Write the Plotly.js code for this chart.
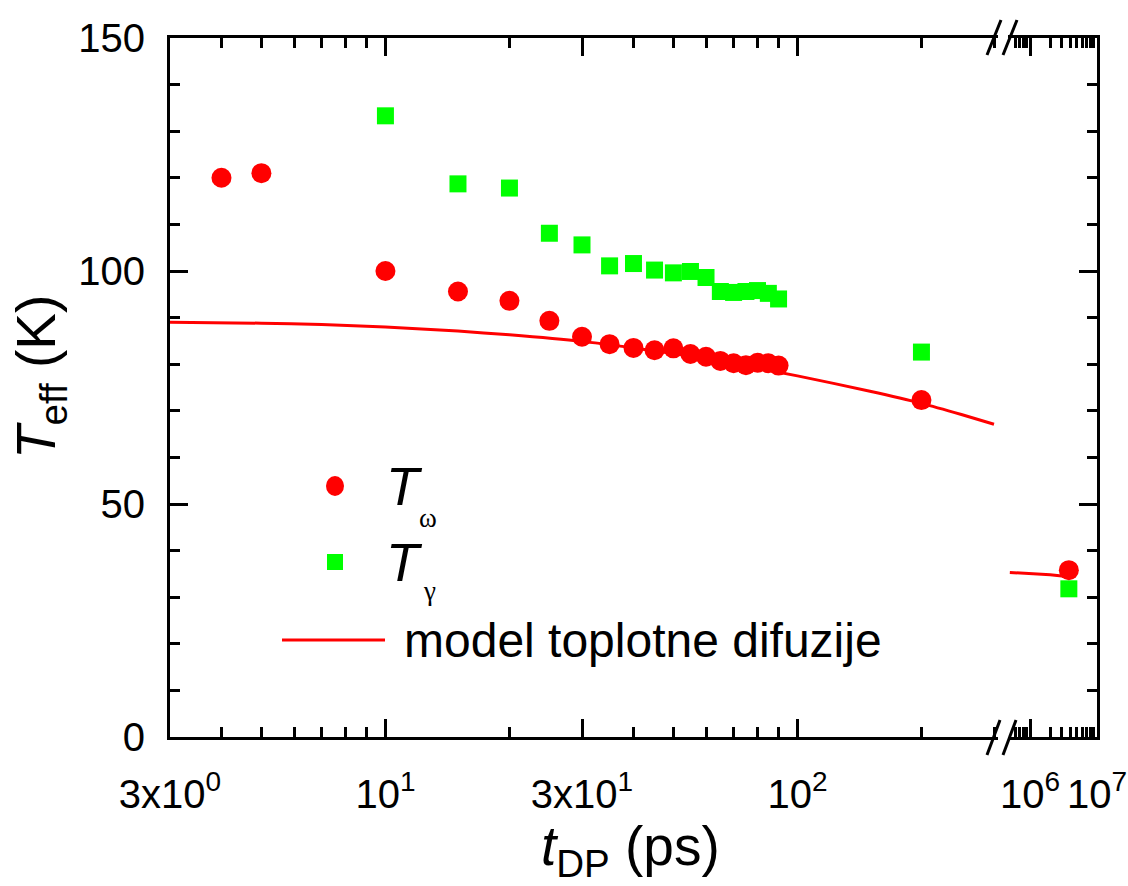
<!DOCTYPE html>
<html>
<head>
<meta charset="utf-8">
<script src="https://cdn.plot.ly/plotly-3.0.1.min.js"></script>
<style>html,body{margin:0;padding:0;background:#fff;}#chart{width:1128px;height:886px;}</style>
</head>
<body>
<div id="chart"></div>
<script>
// ---- data ----
const xOmega = [4, 5, 10, 15, 20, 25, 30, 35, 40, 45, 50, 55, 60, 65, 70, 75, 80, 85, 90, 200];
const yOmega = [120.0, 121.0, 100.0, 95.6, 93.6, 89.3, 85.9, 84.3, 83.5, 83.0, 83.4, 82.2, 81.6, 80.7, 80.2, 79.8, 80.3, 80.2, 79.7, 72.3];
const xGamma = [10, 15, 20, 25, 30, 35, 40, 45, 50, 55, 60, 65, 70, 75, 80, 85, 90, 200];
const yGamma = [133.3, 118.7, 117.8, 108.1, 105.6, 101.1, 101.6, 100.2, 99.6, 99.9, 98.6, 95.6, 95.4, 95.6, 95.8, 95.2, 94.0, 82.6];
const xOmegaLong = [3.8e6];
const yOmegaLong = [35.8];
const xGammaLong = [3.8e6];
const yGammaLong = [31.8];
const xModel = [3, 5, 7, 10, 15, 20, 30, 40, 50, 70, 100, 150, 200, 250, 300];
const yModel = [89.0, 88.8, 88.5, 88.0, 87.1, 86.3, 84.9, 83.5, 82.3, 80.1, 77.5, 74.2, 71.6, 69.2, 67.1];
const xModelLong = [5e5, 1e6, 2e6, 3.8e6];
const yModelLong = [35.3, 35.1, 34.8, 34.4];

const xTickVals = [3, 10, 30, 100];
const xTickText = ['3x10<sup>0</sup>', '10<sup>1</sup>', '3x10<sup>1</sup>', '10<sup>2</sup>'];
const xMinorVals = [4, 5, 6, 7, 8, 9, 20, 40, 50, 60, 70, 80, 90, 200, 300];
const x2TickVals = [1e6, 1e7];
const x2TickText = ['10<sup>6</sup>', '10<sup>7</sup>'];
const x2MinorVals = [6e5, 7e5, 8e5, 9e5, 2e6, 3e6, 4e6, 5e6, 6e6, 7e6, 8e6, 9e6];
const yTickVals = [0, 50, 100, 150];

const RED = '#ff0000', GREEN = '#00ff00';
const FONT = 'Liberation Sans, Arial, sans-serif';

// pixel helpers for decorations (plot area: x 170..1097, y 38..737)
const L = 170, R = 1097, T = 38, B = 737;
const px = x => (x - L) / (R - L);
const py = y => (B - y) / (B - T);

const traces = [
  {x: xModel, y: yModel, xaxis: 'x', yaxis: 'y', mode: 'lines', line: {color: RED, width: 3, shape: 'spline', smoothing: 0.6}, name: 'model toplotne difuzije'},
  {x: xModelLong, y: yModelLong, xaxis: 'x2', yaxis: 'y2', mode: 'lines', line: {color: RED, width: 3}, showlegend: false},
  {x: xGamma, y: yGamma, xaxis: 'x', yaxis: 'y', mode: 'markers', marker: {symbol: 'square', color: GREEN, size: 17}, name: 'Tγ'},
  {x: xGammaLong, y: yGammaLong, xaxis: 'x2', yaxis: 'y2', mode: 'markers', marker: {symbol: 'square', color: GREEN, size: 17}, showlegend: false},
  {x: xOmega, y: yOmega, xaxis: 'x', yaxis: 'y', mode: 'markers', marker: {symbol: 'circle', color: RED, size: 20}, name: 'Tω'},
  {x: xOmegaLong, y: yOmegaLong, xaxis: 'x2', yaxis: 'y2', mode: 'markers', marker: {symbol: 'circle', color: RED, size: 20}, showlegend: false}
];

const axCommon = {
  showgrid: false, zeroline: false, showline: true, linecolor: '#000', linewidth: 3,
  ticks: 'inside', ticklen: 18, tickwidth: 3, tickcolor: '#000',
  tickfont: {family: FONT, size: 40, color: '#000'}
};

const layout = {
  width: 1128, height: 886,
  margin: {l: L, r: 1128 - R, t: T, b: 886 - B, pad: 0},
  paper_bgcolor: '#fff', plot_bgcolor: '#fff',
  showlegend: false,
  font: {family: FONT, color: '#000'},
  xaxis: Object.assign({}, axCommon, {
    type: 'log', domain: [0, px(998)], range: [Math.log10(3), Math.log10(3) + (998 - L) / 412],
    anchor: 'y', mirror: 'allticks', tickmode: 'array', tickvals: xTickVals, ticktext: xTickText,
    ticklabelstandoff: 20,
    minor: {tickmode: 'array', tickvals: xMinorVals, ticks: 'inside', ticklen: 10, tickwidth: 3, tickcolor: '#000'}
  }),
  xaxis2: Object.assign({}, axCommon, {
    type: 'log', domain: [px(1008), 1], range: [6 - 22 / 67, 7],
    anchor: 'y2', mirror: 'allticks', tickmode: 'array', tickvals: x2TickVals, ticktext: x2TickText,
    ticklabelstandoff: 20,
    minor: {tickmode: 'array', tickvals: x2MinorVals, ticks: 'inside', ticklen: 10, tickwidth: 3, tickcolor: '#000'}
  }),
  yaxis: Object.assign({}, axCommon, {
    range: [0, 150], anchor: 'x', side: 'left', tickmode: 'array', tickvals: yTickVals,
    ticklabelstandoff: 14,
    minor: {dtick: 10, ticks: 'inside', ticklen: 10, tickwidth: 3, tickcolor: '#000'}
  }),
  yaxis2: Object.assign({}, axCommon, {
    range: [0, 150], anchor: 'x2', side: 'right', overlaying: 'y', tickmode: 'array', tickvals: yTickVals,
    showticklabels: false,
    minor: {dtick: 10, ticks: 'inside', ticklen: 10, tickwidth: 3, tickcolor: '#000'}
  }),
  shapes: [
    // axis break marks (bottom)
    {type: 'line', xref: 'paper', yref: 'paper', x0: px(987), y0: py(755), x1: px(1000), y1: py(720), line: {color: '#000', width: 3}},
    {type: 'line', xref: 'paper', yref: 'paper', x0: px(1003), y0: py(755), x1: px(1016), y1: py(720), line: {color: '#000', width: 3}},
    // axis break marks (top)
    {type: 'line', xref: 'paper', yref: 'paper', x0: px(987), y0: py(55), x1: px(1001), y1: py(20), line: {color: '#000', width: 3}},
    {type: 'line', xref: 'paper', yref: 'paper', x0: px(1003), y0: py(55), x1: px(1017), y1: py(20), line: {color: '#000', width: 3}},
    // legend symbols
    {type: 'circle', xref: 'paper', yref: 'paper', x0: px(326), x1: px(344), y0: py(476), y1: py(496), fillcolor: RED, line: {width: 0}},
    {type: 'rect', xref: 'paper', yref: 'paper', x0: px(327), x1: px(343), y0: py(554), y1: py(570), fillcolor: GREEN, line: {width: 0}},
    {type: 'line', xref: 'paper', yref: 'paper', x0: px(282), x1: px(385), y0: py(640), y1: py(640), line: {color: RED, width: 3}}
  ],
  annotations: [
    // legend texts
    {xref: 'paper', yref: 'paper', x: px(384), y: py(486), xanchor: 'left', yanchor: 'middle', showarrow: false,
     text: '<i>T</i>', font: {family: FONT, size: 54, color: '#000'}},
    {xref: 'paper', yref: 'paper', x: px(417), y: py(518), xanchor: 'left', yanchor: 'middle', showarrow: false,
     text: 'ω', font: {family: 'Liberation Serif, serif', size: 27, color: '#000'}},
    {xref: 'paper', yref: 'paper', x: px(384), y: py(562), xanchor: 'left', yanchor: 'middle', showarrow: false,
     text: '<i>T</i>', font: {family: FONT, size: 54, color: '#000'}},
    {xref: 'paper', yref: 'paper', x: px(421), y: py(591), xanchor: 'left', yanchor: 'middle', showarrow: false,
     text: 'γ', font: {family: 'Liberation Serif, serif', size: 27, color: '#000'}},
    {xref: 'paper', yref: 'paper', x: px(402), y: py(640), xanchor: 'left', yanchor: 'middle', showarrow: false,
     text: 'model toplotne difuzije', font: {family: FONT, size: 48, color: '#000'}},
    // x axis title
    {xref: 'paper', yref: 'paper', x: px(630), y: py(850), xanchor: 'center', yanchor: 'middle', showarrow: false,
     text: '<i>t</i><sub>DP</sub> (ps)', font: {family: FONT, size: 55, color: '#000'}},
    // y axis title
    {xref: 'paper', yref: 'paper', x: px(40), y: py(377), xanchor: 'center', yanchor: 'middle', showarrow: false, textangle: -90,
     text: '<i>T</i><sub>eff</sub> (K)', font: {family: FONT, size: 55, color: '#000'}}
  ]
};

Plotly.newPlot('chart', traces, layout, {staticPlot: true, displayModeBar: false});
</script>
</body>
</html>
